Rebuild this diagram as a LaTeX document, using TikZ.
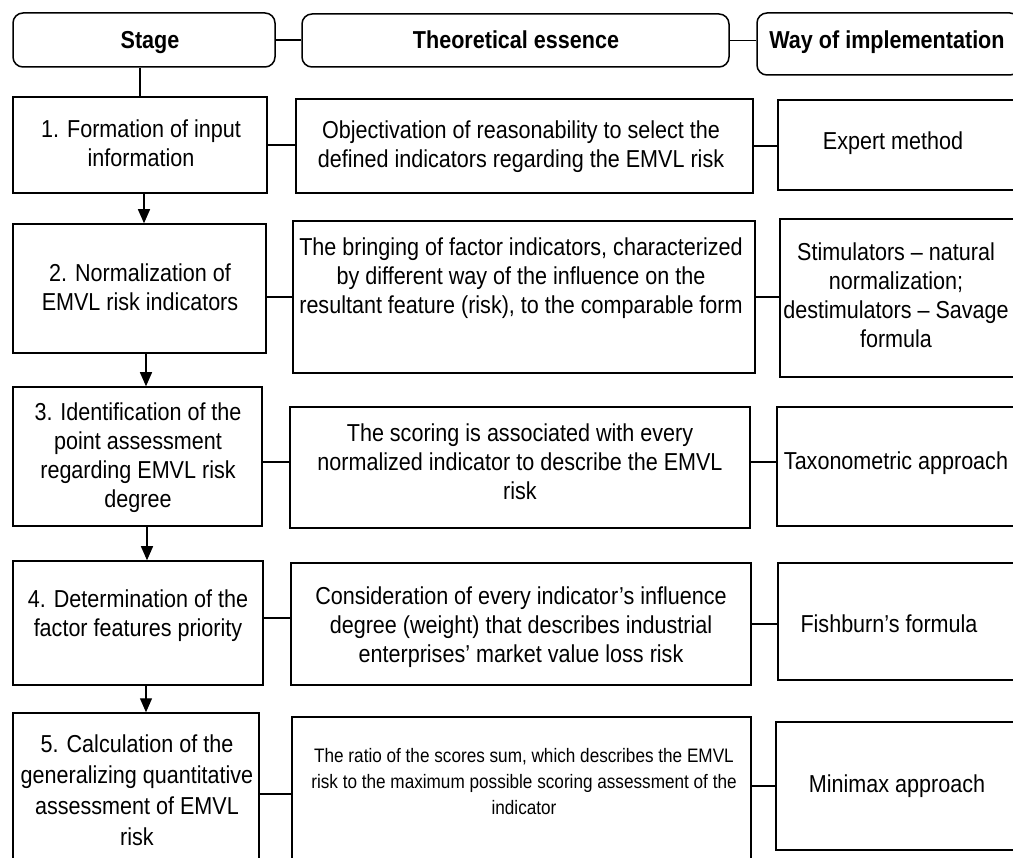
\documentclass[tikz,border=0pt]{standalone}
\usepackage{fontspec}
\setmainfont{Liberation Sans}[FakeStretch=0.88]
\usetikzlibrary{arrows.meta}
\begin{document}
\begin{tikzpicture}[x=1pt,y=-1pt,
  box/.style={draw, line width=1.5pt, inner sep=0pt},
  hbox/.style={box, rounded corners=10pt},
  txt/.style={align=center, inner sep=0pt, font=\fontsize{24.5}{29}\selectfont},
  htxt/.style={align=center, inner sep=0pt, font=\fontsize{24.5}{29}\selectfont\bfseries},
  stxt/.style={align=center, inner sep=0pt, font=\fontsize{19.5}{26}\selectfont},
  link/.style={line width=1.4pt},
  arr/.style={line width=1.4pt, -{Triangle[width=12pt,length=14pt]}}
]
\useasboundingbox (0,0) rectangle (1013,858);
\clip (0,0) rectangle (1013,858);

% header boxes
\node[hbox, minimum width=262pt, minimum height=54pt] (h1) at (144,40) {};
\node[hbox, minimum width=427pt, minimum height=53pt] (h2) at (515.5,40.5) {};
\node[hbox, minimum width=263pt, minimum height=62pt] (h3) at (888.5,44) {};
\node[htxt] (ht1) at (150,43) {\strut Stage};
\node[htxt] (ht2) at (516,43) {\strut Theoretical essence};
\node[htxt] (ht3) at (887,43) {\strut Way of implementation};

% row 1
\node[box, minimum width=254pt, minimum height=96pt] (b1) at (140,145) {};
\node[box, minimum width=457pt, minimum height=94pt] (th1) at (524.5,146) {};
\node[box, minimum width=242pt, minimum height=90pt] (w1) at (899,145) {};
\node[txt] (tb1) at (141,146) {\strut 1. Formation of input\\\strut information};
\node[txt] (tt1) at (521,147) {\strut Objectivation of reasonability to select the\\\strut defined indicators regarding the EMVL risk};
\node[txt] (tw1) at (893,144) {\strut Expert method};

% row 2
\node[box, minimum width=253pt, minimum height=129pt] (b2) at (139.5,288.5) {};
\node[box, minimum width=462pt, minimum height=152pt] (th2) at (524,297) {};
\node[box, minimum width=240pt, minimum height=158pt] (w2) at (900,298) {};
\node[txt] (tb2) at (140,290.5) {\strut 2. Normalization of\\\strut EMVL risk indicators};
\node[txt] (tt2) at (521,279) {\strut The bringing of factor indicators, characterized\\\strut by different way of the influence on the\\\strut resultant feature (risk), to the comparable form};
\node[txt] (tw2) at (896,298) {\strut Stimulators -- natural\\\strut normalization;\\\strut destimulators -- Savage\\\strut formula};

% row 3
\node[box, minimum width=249pt, minimum height=139pt] (b3) at (137.5,456.5) {};
\node[box, minimum width=460pt, minimum height=121pt] (th3) at (520,467.5) {};
\node[box, minimum width=243pt, minimum height=119pt] (w3) at (898.5,466.5) {};
\node[txt] (tb3) at (138,458) {\strut 3. Identification of the\\\strut point assessment\\\strut regarding EMVL risk\\\strut degree};
\node[txt] (tt3) at (520,464.5) {\strut The scoring is associated with every\\\strut normalized indicator to describe the EMVL\\\strut risk};
\node[txt] (tw3) at (896,464) {\strut Taxonometric approach};

% row 4
\node[box, minimum width=250pt, minimum height=124pt] (b4) at (138,623) {};
\node[box, minimum width=460pt, minimum height=122pt] (th4) at (521,624) {};
\node[box, minimum width=242pt, minimum height=117pt] (w4) at (899,621.5) {};
\node[txt] (tb4) at (138,616) {\strut 4. Determination of the\\\strut factor features priority};
\node[txt] (tt4) at (521,628) {\strut Consideration of every indicator’s influence\\\strut degree (weight) that describes industrial\\\strut enterprises’ market value loss risk};
\node[txt] (tw4) at (889,627) {\strut Fishburn’s formula};

% row 5
\node[box, minimum width=246pt, minimum height=167pt] (b5) at (136,796.5) {};
\node[box, minimum width=459pt, minimum height=163pt] (th5) at (521.5,798.5) {};
\node[box, minimum width=244pt, minimum height=128pt] (w5) at (898,786) {};
\node[txt, font=\fontsize{24.5}{31}\selectfont] (tb5) at (137,793) {\strut 5. Calculation of the\\\strut generalizing quantitative\\\strut assessment of EMVL\\\strut risk};
\node[stxt] (tt5) at (524,783.5) {\strut The ratio of the scores sum, which describes the EMVL\\\strut risk to the maximum possible scoring assessment of the\\\strut indicator};
\node[txt] (tw5) at (897,787) {\strut Minimax approach};

% header connectors
\draw[link] (h1.east) -- (h1.east -| h2.west);
\draw[link] (h2.east) -- (h2.east -| h3.west);
\draw[link] (h1.south -| b1.north) -- (b1.north);

% row connectors
\draw[link] (b1.east) -- (b1.east -| th1.west);
\draw[link] (th1.east) -- (th1.east -| w1.west);
\draw[link] (th2.west -| b2.east) -- (th2.west);
\draw[link] (th2.east) -- (th2.east -| w2.west);
\draw[link] ([yshift=-5.5pt]b3.east) -- ([yshift=-5.5pt]b3.east -| th3.west);
\draw[link] ([yshift=5.5pt]th3.east) -- ([yshift=5.5pt]th3.east -| w3.west);
\draw[link] ([yshift=5pt]b4.east) -- ([yshift=5pt]b4.east -| th4.west);
\draw[link] (th4.east) -- (th4.east -| w4.west);
\draw[link] ([yshift=2.5pt]b5.east) -- ([yshift=2.5pt]b5.east -| th5.west);
\draw[link] (w5.west -| th5.east) -- (w5.west);

% stage arrows
\draw[arr] ([xshift=4pt]b1.south) -- ([xshift=4pt]b1.south |- b2.north);
\draw[arr] ([xshift=6.5pt]b2.south) -- ([xshift=6.5pt]b2.south |- b3.north);
\draw[arr] ([xshift=9.5pt]b3.south) -- ([xshift=9.5pt]b3.south |- b4.north);
\draw[arr] ([xshift=8pt]b4.south) -- ([xshift=8pt]b4.south |- b5.north);
\end{tikzpicture}
\end{document}
